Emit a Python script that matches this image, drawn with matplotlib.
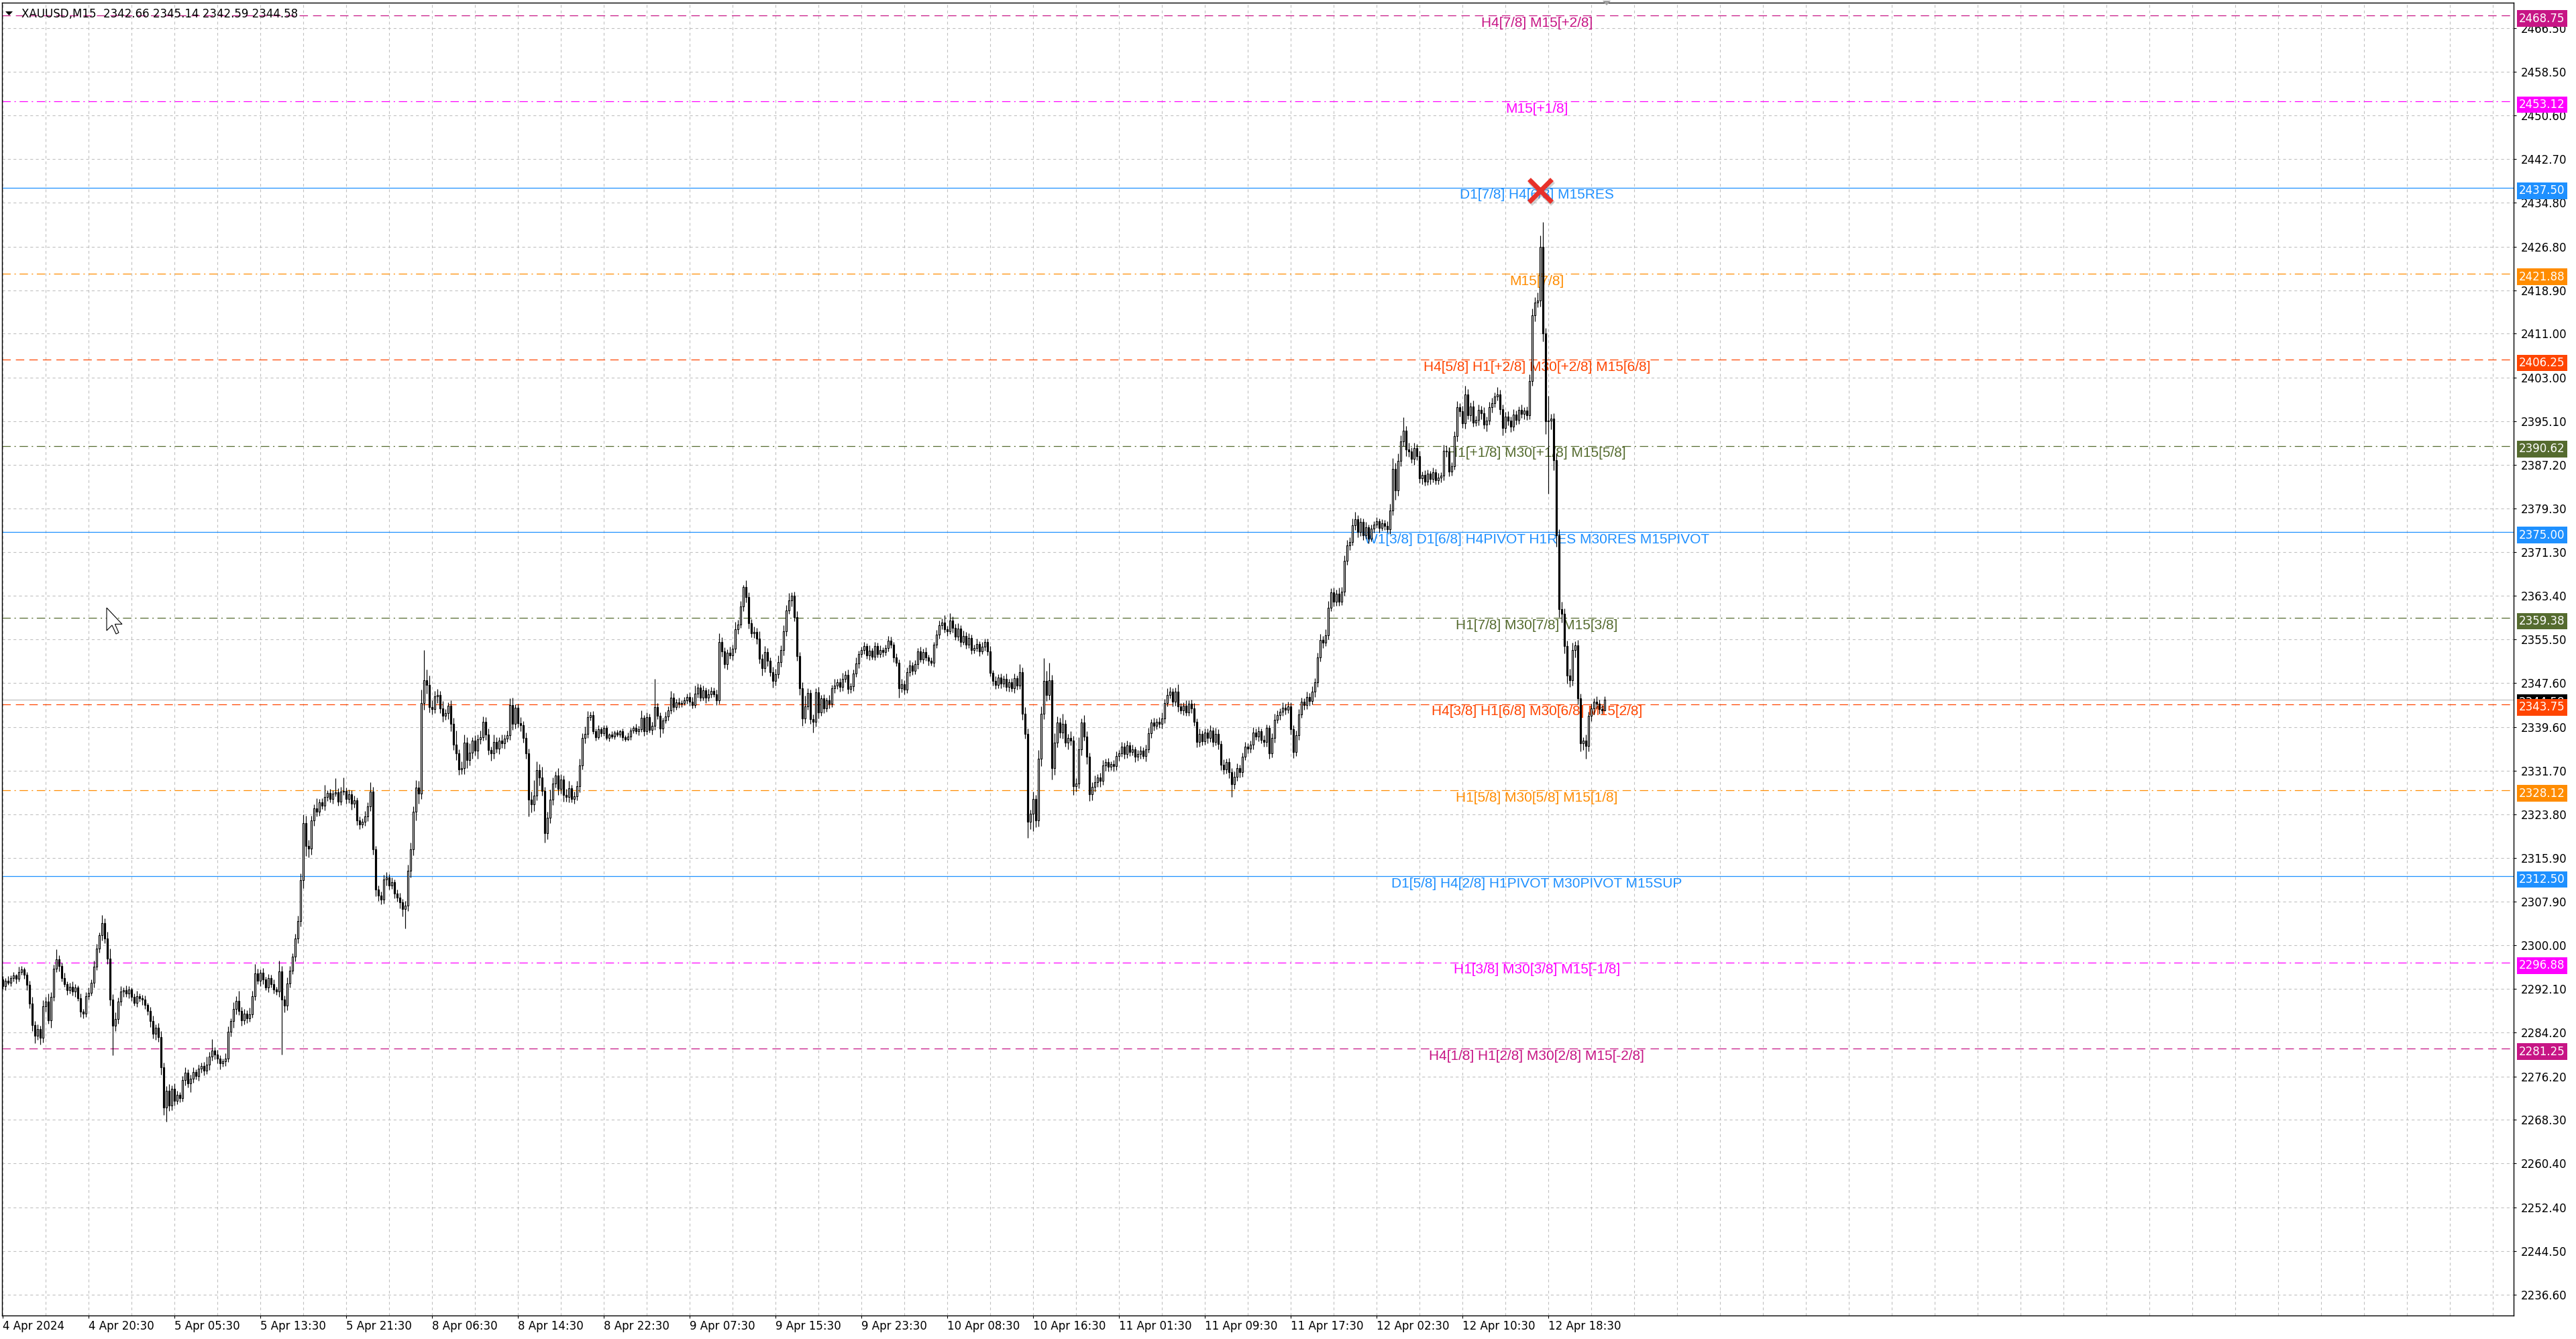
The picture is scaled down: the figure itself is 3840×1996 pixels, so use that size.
import numpy as np
import matplotlib.pyplot as plt
import matplotlib.transforms as mtransforms
from matplotlib.patches import Polygon

plt.rcParams['font.family'] = ['DejaVu Sans']
plt.rcParams['lines.scale_dashes'] = False

# ---------- XAUUSD M15 candles ----------
first_open = 2293.8
closes = [
    2292.6, 2293.6, 2293.2, 2294.0, 2294.5, 2293.9, 2295.2, 2295.6, 2294.6, 2292.8,
    2289.4, 2285.5, 2283.6, 2284.8, 2283.2, 2288.9, 2289.8, 2286.4, 2290.6, 2295.8,
    2297.4, 2296.2, 2294.1, 2293.0, 2291.8, 2292.5, 2291.6, 2292.3, 2290.4, 2288.0,
    2287.6, 2290.8, 2291.4, 2293.2, 2296.1, 2299.4, 2301.8, 2304.0, 2301.2, 2297.6,
    2290.2, 2285.4, 2286.6, 2289.8, 2291.6, 2291.9, 2291.2, 2292.0, 2290.6, 2289.6,
    2290.8, 2290.4, 2290.1, 2289.2, 2288.1, 2286.2, 2284.0, 2285.1, 2283.3, 2277.8,
    2270.6, 2273.6, 2270.9, 2274.0, 2271.8, 2272.9, 2272.3, 2275.5, 2276.9, 2274.9,
    2275.8, 2277.0, 2276.3, 2277.6, 2278.1, 2277.2, 2278.4, 2279.8, 2280.9, 2280.2,
    2279.4, 2278.6, 2279.0, 2279.5, 2284.3, 2286.2, 2288.4, 2289.9, 2288.1, 2286.4,
    2287.6, 2286.8, 2287.5, 2290.8, 2294.9, 2293.6, 2295.0, 2293.8, 2292.4, 2294.1,
    2293.0, 2292.0, 2291.6, 2295.3, 2290.2, 2289.0, 2293.1, 2295.4, 2298.0, 2301.2,
    2304.4, 2311.8, 2322.2, 2318.0, 2317.6, 2322.6, 2324.8, 2324.2, 2326.0, 2325.3,
    2326.9, 2327.6, 2326.6, 2327.5, 2327.8, 2326.1, 2327.9, 2328.0, 2326.6, 2327.4,
    2325.7, 2326.3, 2322.7, 2321.9, 2322.4, 2323.4, 2325.2, 2327.9, 2317.4, 2310.1,
    2309.0, 2308.3, 2311.9, 2312.3, 2310.9, 2311.5, 2309.4, 2308.6, 2307.8, 2306.6,
    2307.2, 2313.5, 2317.4, 2324.2, 2328.6, 2327.5, 2344.0, 2348.1, 2347.3, 2343.2,
    2342.9, 2345.2, 2345.4, 2343.0, 2341.6, 2342.1, 2343.5, 2340.2, 2336.4, 2334.8,
    2331.9, 2332.2, 2336.8, 2333.6, 2335.0, 2337.1, 2335.3, 2337.4, 2337.8, 2340.6,
    2338.3, 2335.4, 2334.8, 2336.9, 2335.7, 2337.2, 2336.6, 2337.5, 2338.1, 2343.6,
    2340.2, 2343.1, 2340.3, 2340.0, 2337.6, 2334.8, 2326.4, 2325.6, 2327.2, 2331.8,
    2330.4, 2328.0, 2320.4, 2323.1, 2326.4, 2329.4, 2330.8, 2328.4, 2330.1, 2327.3,
    2326.9, 2328.5, 2326.6, 2327.1, 2328.9, 2332.6, 2337.6, 2338.4, 2341.4, 2341.8,
    2338.9, 2337.8, 2339.2, 2338.5, 2339.4, 2337.6, 2338.2, 2337.9, 2338.6, 2338.3,
    2338.8, 2337.7, 2337.4, 2337.9, 2339.0, 2339.4, 2338.8, 2339.2, 2341.3, 2338.8,
    2341.4, 2339.1, 2339.8, 2343.2, 2341.7, 2339.4, 2340.8, 2341.5, 2342.6, 2345.0,
    2343.2, 2344.1, 2343.8, 2344.0, 2344.4, 2345.1, 2344.2, 2343.6, 2345.7, 2346.8,
    2345.0, 2346.3, 2344.9, 2345.6, 2346.2, 2345.6, 2344.4, 2355.0, 2353.4, 2351.0,
    2353.1, 2352.6, 2353.8, 2357.4, 2358.2, 2361.5, 2365.0, 2363.2, 2358.4, 2356.6,
    2356.9, 2355.7, 2352.0, 2350.3, 2353.2, 2351.6, 2349.6, 2348.0, 2349.2, 2351.4,
    2353.6, 2357.0, 2360.8, 2362.6, 2363.4, 2359.6, 2352.5, 2346.6, 2341.2, 2343.4,
    2345.8, 2341.0, 2340.6, 2345.9, 2342.3, 2344.8, 2343.0, 2344.5, 2343.9, 2346.6,
    2347.1, 2347.7, 2346.9, 2348.4, 2349.1, 2346.5, 2347.0, 2349.3, 2351.1, 2352.8,
    2353.6, 2354.3, 2352.6, 2353.5, 2352.4, 2354.3, 2352.8, 2353.6, 2353.2, 2354.0,
    2355.3, 2354.5, 2352.2, 2351.3, 2346.6, 2347.4, 2346.4, 2349.6, 2350.8, 2349.8,
    2351.0, 2353.4, 2351.9, 2353.2, 2352.2, 2351.6, 2351.3, 2354.5, 2356.4, 2358.1,
    2358.6, 2357.4, 2357.0, 2358.9, 2357.6, 2356.0, 2357.5, 2355.1, 2356.2, 2354.6,
    2355.8, 2353.6, 2353.9, 2354.7, 2353.4, 2354.2, 2355.0, 2353.4, 2349.4, 2348.0,
    2347.2, 2348.6, 2347.5, 2348.4, 2346.9, 2347.8, 2346.6, 2348.5, 2347.1, 2349.6,
    2342.0, 2338.4, 2322.4, 2323.9, 2326.5, 2322.6, 2333.9, 2342.0, 2348.0, 2345.4,
    2348.1, 2332.1, 2336.8, 2340.4, 2338.6, 2340.2, 2336.8, 2337.6, 2337.2, 2328.9,
    2329.4, 2335.6, 2340.4, 2337.9, 2334.2, 2327.4, 2328.8, 2329.6, 2330.4, 2329.8,
    2332.6, 2333.2, 2332.4, 2332.9, 2332.5, 2334.3, 2334.8, 2336.1, 2334.7, 2336.3,
    2335.1, 2335.6, 2334.2, 2334.7, 2335.3, 2334.4, 2335.6, 2338.5, 2340.4, 2339.8,
    2340.6, 2340.2, 2341.2, 2344.0, 2345.4, 2346.0, 2344.2, 2346.0, 2343.3, 2342.6,
    2343.5, 2342.3, 2343.8, 2343.0, 2340.5, 2336.9, 2338.4, 2337.0, 2338.6, 2337.6,
    2339.0, 2336.9, 2338.4, 2336.5, 2332.8, 2331.9, 2333.2, 2331.4, 2329.2, 2330.6,
    2332.2, 2331.4, 2334.2, 2336.0, 2335.7, 2336.4, 2338.6, 2337.9, 2338.8, 2337.3,
    2336.9, 2339.4, 2334.8, 2337.6, 2340.9, 2341.8, 2342.4, 2343.1, 2342.7, 2343.3,
    2339.2, 2335.1, 2338.1, 2341.9, 2344.2, 2343.6, 2345.1, 2344.3, 2346.0, 2347.7,
    2352.2, 2355.4, 2354.9, 2356.3, 2361.3, 2364.0, 2362.4, 2363.8, 2362.3, 2364.2,
    2369.8, 2372.6, 2373.2, 2376.2, 2377.3, 2375.0, 2376.8, 2374.4, 2375.9, 2373.8,
    2375.6, 2376.3, 2376.9, 2375.7, 2376.6, 2376.1, 2375.5, 2378.9, 2386.5, 2382.5,
    2387.9, 2391.4, 2393.4, 2390.0, 2389.6, 2388.3, 2390.2, 2388.8, 2384.8, 2385.4,
    2384.2, 2385.6, 2384.6, 2385.8, 2384.4, 2384.9, 2385.2, 2389.8, 2389.6, 2386.0,
    2387.0, 2392.4, 2397.6, 2396.9, 2394.7, 2400.0, 2396.2, 2397.8, 2394.9, 2395.3,
    2397.2, 2396.5, 2394.5, 2395.2, 2397.6, 2398.4, 2399.6, 2400.0, 2397.3, 2393.9,
    2396.0, 2395.2, 2394.1, 2396.3, 2395.4, 2397.2, 2396.4, 2397.0, 2396.2, 2402.4,
    2414.3, 2416.6, 2417.0, 2426.7, 2411.0, 2395.1, 2395.2, 2395.6, 2388.0, 2374.4,
    2361.0, 2360.2, 2354.3, 2349.0, 2348.1, 2353.6, 2354.4, 2344.8, 2336.6, 2337.1,
    2336.2, 2341.6, 2343.0, 2344.2, 2343.8, 2342.9, 2342.66, 2344.58,
]

# wick length above max(open, close) and below min(open, close)
upper_wick = [
    0.6, 0.4, 0.8, 0.5, 0.7, 0.3, 0.9, 0.6, 0.4, 0.5, 0.8, 1.2, 0.7, 0.9, 0.6, 1.1, 0.8, 1.4, 0.9, 0.7,
    1.9, 0.8, 0.6, 0.9, 0.5, 0.7, 1.0, 0.6, 0.4, 0.8, 0.5, 0.7, 0.9, 0.6, 1.1, 0.8, 0.5, 1.5, 0.9, 1.3,
    1.8, 0.9, 1.2, 0.7, 1.0, 0.5, 0.8, 0.6, 0.4, 0.7, 0.9, 0.5, 0.6, 0.8, 0.4, 0.7, 1.0, 0.6, 0.8, 1.1,
    0.9, 0.8, 1.2, 0.6, 0.9, 0.7, 0.5, 0.8, 1.0, 0.6, 0.7, 0.9, 0.5, 0.8, 0.6, 0.7, 1.4, 0.9, 2.1, 0.6,
    0.8, 0.7, 0.5, 0.9, 1.0, 0.6, 1.3, 0.9, 1.8, 0.7, 0.8, 0.6, 1.2, 0.9, 1.7, 0.8, 0.6, 0.9, 0.5, 0.7,
    0.6, 0.8, 0.5, 1.9, 0.9, 0.7, 1.1, 0.8, 0.6, 0.9, 1.0, 1.2, 1.6, 1.3, 1.1, 0.9, 0.8, 1.9, 0.6, 0.7,
    2.2, 0.5, 0.8, 0.6, 2.5, 0.7, 0.9, 2.4, 0.6, 0.8, 0.7, 0.9, 0.5, 0.7, 0.6, 1.0, 0.8, 1.7, 0.9, 0.6,
    0.8, 0.7, 0.9, 1.0, 0.6, 0.8, 0.5, 0.7, 0.9, 0.6, 0.8, 1.1, 1.3, 1.0, 1.4, 1.2, 2.4, 5.5, 2.0, 1.6,
    1.2, 0.9, 1.1, 0.7, 1.3, 0.8, 0.6, 0.9, 1.1, 2.6, 0.8, 1.2, 1.5, 0.9, 1.6, 0.7, 1.0, 0.8, 1.2, 0.9,
    0.8, 1.1, 0.7, 1.3, 0.9, 0.6, 1.0, 0.8, 0.9, 1.2, 1.4, 0.6, 0.8, 1.1, 0.7, 1.0, 0.9, 1.5, 2.8, 1.6,
    1.1, 2.0, 0.7, 1.2, 1.9, 1.0, 0.8, 1.4, 0.9, 0.7, 1.1, 1.3, 0.6, 0.8, 1.0, 1.2, 0.9, 1.3, 1.1, 0.6,
    0.7, 0.5, 0.8, 0.4, 0.6, 0.5, 0.3, 0.6, 0.4, 0.5, 0.3, 0.6, 0.4, 0.7, 0.5, 0.4, 0.8, 0.6, 1.3, 0.5,
    0.9, 0.6, 0.7, 5.1, 0.8, 0.6, 0.5, 0.9, 0.7, 1.2, 0.8, 0.6, 0.9, 0.5, 0.7, 0.6, 0.8, 0.9, 1.4, 0.7,
    0.6, 0.8, 0.5, 0.9, 0.7, 0.6, 0.8, 1.6, 0.9, 0.7, 0.6, 1.1, 0.8, 1.3, 0.9, 1.0, 0.4, 1.2, 0.9, 0.8,
    1.0, 0.7, 1.3, 0.9, 1.1, 0.8, 0.6, 0.9, 1.0, 1.2, 0.8, 1.1, 0.9, 1.3, 0.6, 0.8, 1.0, 0.7, 1.1, 1.9,
    0.8, 0.6, 0.9, 0.7, 1.0, 0.6, 0.8, 0.5, 0.9, 0.7, 1.3, 0.6, 0.8, 1.0, 0.7, 0.9, 0.6, 0.8, 1.2, 0.7,
    0.6, 0.8, 0.5, 0.9, 0.4, 0.7, 0.6, 0.8, 0.5, 0.6, 0.9, 0.7, 0.5, 0.8, 0.6, 0.9, 0.7, 0.8, 1.0, 0.6,
    0.7, 0.5, 0.8, 0.6, 0.9, 0.5, 0.7, 0.6, 0.8, 0.9, 0.7, 1.3, 0.6, 1.4, 0.8, 0.7, 1.0, 0.6, 0.9, 0.7,
    0.8, 0.6, 0.7, 0.9, 0.5, 0.8, 0.6, 0.7, 0.9, 0.5, 0.8, 0.6, 0.7, 0.5, 0.9, 0.6, 0.7, 0.8, 0.5, 1.4,
    0.8, 1.2, 0.9, 0.7, 1.4, 0.8, 1.5, 1.3, 4.1, 1.8, 3.2, 1.0, 1.7, 1.1, 0.9, 1.8, 0.7, 0.8, 1.2, 0.8,
    0.9, 2.1, 0.8, 1.4, 0.9, 0.7, 0.8, 1.2, 0.6, 0.9, 1.0, 0.7, 0.8, 0.5, 0.7, 0.9, 0.6, 0.8, 0.7, 0.9,
    0.6, 0.8, 0.5, 0.7, 0.9, 0.6, 0.8, 1.0, 0.7, 0.9, 0.6, 0.8, 1.1, 0.7, 1.2, 0.9, 0.6, 0.8, 1.4, 0.7,
    0.6, 0.9, 0.7, 0.8, 1.0, 0.7, 0.9, 0.6, 0.8, 0.7, 0.9, 0.6, 1.1, 0.8, 0.7, 0.9, 0.6, 0.8, 0.7, 0.9,
    0.8, 0.6, 0.7, 0.9, 0.6, 0.8, 1.0, 0.7, 0.9, 0.6, 0.8, 0.7, 0.6, 0.9, 1.1, 0.8, 0.6, 1.0, 0.7, 0.9,
    0.8, 0.7, 0.9, 1.0, 0.8, 0.6, 0.9, 0.7, 1.0, 0.8, 0.9, 1.1, 0.7, 1.0, 1.2, 0.8, 0.9, 0.7, 1.1, 0.8,
    0.9, 1.0, 0.8, 1.2, 1.4, 0.7, 0.8, 0.6, 0.9, 0.5, 0.7, 0.6, 0.8, 0.5, 0.7, 0.6, 0.8, 1.2, 1.9, 1.0,
    1.4, 1.1, 2.4, 0.9, 1.2, 0.8, 1.0, 0.7, 0.9, 0.6, 0.8, 0.7, 0.5, 0.9, 0.6, 0.8, 0.7, 1.0, 0.9, 0.8,
    0.7, 0.9, 1.1, 0.8, 1.0, 1.6, 0.9, 0.7, 1.1, 0.8, 0.9, 0.7, 1.2, 0.8, 1.0, 0.9, 0.7, 1.3, 0.8, 0.9,
    0.8, 0.9, 0.7, 1.0, 0.8, 0.6, 0.9, 0.7, 0.8, 1.2, 1.3, 1.0, 1.5, 2.1, 4.6, 1.0, 4.5, 0.8, 0.9, 1.2,
    1.1, 1.4, 0.9, 1.0, 1.2, 1.3, 0.8, 1.0, 0.9, 0.7, 1.1, 0.8, 0.9, 0.6, 1.0, 0.8, 0.7, 0.56,
]
lower_wick = [
    0.5, 0.7, 0.4, 0.6, 0.5, 0.8, 0.4, 0.6, 0.7, 0.9, 0.8, 1.1, 1.4, 0.7, 1.2, 0.8, 0.9, 0.6, 1.3, 0.7,
    0.6, 0.9, 0.7, 0.5, 0.8, 0.6, 0.7, 0.9, 0.5, 1.0, 0.9, 0.6, 0.7, 0.5, 0.8, 0.6, 0.7, 0.9, 0.8, 1.0,
    1.2, 5.4, 1.0, 0.8, 0.7, 0.9, 0.6, 0.8, 0.7, 0.5, 0.8, 0.6, 0.9, 0.7, 0.8, 1.0, 0.9, 1.1, 0.8, 1.3,
    1.4, 2.6, 1.0, 0.8, 0.9, 0.7, 0.8, 0.6, 0.9, 0.7, 1.6, 0.8, 0.6, 0.9, 0.7, 0.8, 0.6, 1.0, 0.7, 0.9,
    0.8, 1.1, 0.6, 0.9, 0.7, 0.8, 1.2, 0.9, 0.7, 1.0, 0.8, 0.9, 0.7, 0.6, 0.8, 0.7, 1.0, 0.8, 0.6, 0.9,
    0.7, 0.8, 0.6, 0.9, 10.0, 1.2, 0.8, 0.7, 0.6, 0.9, 0.8, 1.0, 1.4, 1.8, 1.6, 1.1, 0.9, 0.8, 0.7, 0.6,
    0.8, 0.7, 0.6, 0.9, 0.5, 0.8, 0.7, 0.6, 0.9, 0.8, 1.1, 0.7, 0.9, 0.8, 0.6, 0.7, 0.9, 0.8, 1.0, 1.2,
    0.9, 0.8, 0.7, 1.0, 0.8, 0.6, 0.9, 0.7, 1.1, 1.3, 3.6, 1.0, 1.2, 1.1, 1.5, 1.8, 0.9, 1.2, 1.6, 0.9,
    1.0, 0.8, 1.2, 0.9, 1.1, 0.7, 1.0, 1.3, 0.9, 1.2, 1.0, 0.8, 1.1, 1.5, 0.9, 1.2, 0.8, 1.4, 0.9, 0.7,
    1.0, 0.8, 1.3, 0.9, 0.7, 1.0, 0.8, 0.9, 0.6, 0.8, 1.1, 0.9, 0.7, 1.2, 0.8, 0.9, 3.0, 1.5, 1.2, 0.9,
    1.4, 0.8, 1.8, 1.2, 0.9, 1.0, 0.8, 1.1, 0.9, 1.2, 0.8, 1.0, 0.7, 0.9, 0.8, 1.1, 0.7, 0.9, 0.8, 0.6,
    0.5, 0.7, 0.4, 0.6, 0.5, 0.3, 0.6, 0.4, 0.5, 0.4, 0.6, 0.5, 0.4, 0.3, 0.6, 0.5, 0.4, 0.7, 0.5, 0.8,
    0.6, 0.5, 0.8, 0.7, 0.6, 1.6, 0.9, 0.5, 0.7, 0.6, 0.8, 0.5, 0.7, 0.6, 0.4, 0.5, 0.7, 0.6, 0.5, 0.8,
    0.7, 0.5, 0.9, 0.6, 0.7, 0.5, 0.8, 0.6, 1.0, 0.7, 0.9, 0.6, 0.8, 0.7, 0.9, 0.6, 0.8, 1.0, 0.9, 0.7,
    0.8, 1.0, 0.9, 1.3, 0.7, 0.9, 0.8, 1.2, 0.9, 0.7, 0.8, 1.0, 0.9, 0.7, 1.1, 0.8, 0.9, 1.2, 1.4, 0.9,
    0.7, 0.8, 2.0, 0.9, 1.1, 0.7, 0.8, 0.6, 0.9, 0.7, 0.8, 0.6, 0.9, 0.7, 0.6, 0.8, 0.7, 0.9, 0.6, 0.8,
    0.5, 0.7, 0.6, 0.8, 0.5, 0.7, 0.6, 0.5, 0.8, 0.6, 0.7, 0.5, 0.8, 0.6, 1.6, 0.7, 0.9, 0.6, 0.8, 0.7,
    0.6, 0.8, 0.5, 0.7, 0.6, 0.8, 0.5, 0.7, 0.6, 0.8, 0.7, 0.6, 0.9, 0.5, 0.8, 0.6, 0.7, 0.9, 0.6, 0.8,
    0.7, 0.8, 0.6, 0.5, 0.9, 0.6, 0.7, 0.8, 0.6, 0.9, 0.7, 0.5, 0.8, 0.6, 0.7, 0.9, 0.6, 0.8, 0.7, 0.6,
    1.1, 0.9, 2.9, 1.3, 3.2, 1.2, 1.0, 1.4, 0.9, 1.1, 0.8, 2.0, 1.2, 0.9, 1.0, 1.1, 0.8, 1.2, 0.9, 1.6,
    1.0, 0.9, 1.1, 0.8, 1.3, 1.2, 1.1, 0.9, 0.8, 1.0, 0.7, 0.9, 0.8, 0.6, 0.9, 0.7, 0.8, 0.6, 0.9, 0.7,
    0.8, 0.6, 0.9, 0.7, 0.8, 0.6, 1.0, 0.7, 0.9, 0.8, 0.6, 0.7, 0.8, 0.9, 0.7, 0.6, 0.8, 0.7, 0.9, 0.6,
    0.8, 0.7, 0.6, 0.9, 0.7, 1.0, 0.8, 0.7, 0.6, 0.9, 0.7, 0.8, 0.6, 0.9, 1.0, 0.8, 0.7, 1.1, 2.3, 0.8,
    0.7, 0.9, 0.8, 0.6, 0.9, 0.7, 0.8, 0.6, 0.9, 0.7, 0.8, 0.9, 1.0, 0.7, 0.8, 0.6, 0.9, 0.7, 0.8, 0.6,
    0.9, 1.1, 0.7, 0.8, 0.6, 0.9, 0.7, 0.8, 0.6, 0.9, 0.8, 0.7, 0.9, 0.6, 0.8, 0.7, 0.9, 0.8, 0.7, 0.6,
    0.8, 0.7, 0.9, 0.6, 0.8, 1.0, 0.7, 0.9, 0.6, 0.8, 0.5, 0.7, 0.6, 0.8, 0.5, 0.7, 0.6, 0.8, 0.9, 1.6,
    0.9, 1.0, 0.8, 1.2, 0.9, 0.7, 1.1, 0.8, 0.9, 1.2, 0.8, 0.7, 0.9, 0.6, 0.8, 0.7, 0.9, 0.8, 1.0, 0.9,
    0.8, 0.7, 0.9, 1.0, 0.8, 0.9, 0.7, 1.1, 0.8, 0.7, 0.9, 1.0, 0.8, 1.2, 0.7, 0.9, 0.8, 0.7, 1.0, 1.4,
    0.9, 0.8, 1.0, 0.7, 0.9, 0.8, 0.7, 0.9, 0.8, 0.7, 0.9, 1.0, 0.8, 1.1, 1.4, 2.3, 13.1, 1.6, 1.8, 2.1,
    1.4, 1.6, 1.3, 1.5, 1.2, 1.0, 1.3, 1.1, 1.4, 1.2, 2.3, 1.0, 0.9, 1.1, 0.8, 0.9, 0.7, 0.07,
]

x_labels = ["4 Apr 2024", "4 Apr 20:30", "5 Apr 05:30", "5 Apr 13:30", "5 Apr 21:30",
            "8 Apr 06:30", "8 Apr 14:30", "8 Apr 22:30", "9 Apr 07:30", "9 Apr 15:30",
            "9 Apr 23:30", "10 Apr 08:30", "10 Apr 16:30", "11 Apr 01:30", "11 Apr 09:30",
            "11 Apr 17:30", "12 Apr 02:30", "12 Apr 10:30", "12 Apr 18:30"]
y_ticks = [2466.50, 2458.50, 2450.60, 2442.70, 2434.80, 2426.80, 2418.90, 2411.00,
           2403.00, 2395.10, 2387.20, 2379.30, 2371.30, 2363.40, 2355.50, 2347.60,
           2339.60, 2331.70, 2323.80, 2315.90, 2307.90, 2300.00, 2292.10, 2284.20,
           2276.20, 2268.30, 2260.40, 2252.40, 2244.50, 2236.60]

# Murrey-math style levels
levels = [2468.75, 2453.12, 2437.50, 2421.88, 2406.25, 2390.62, 2375.00,
          2359.38, 2343.75, 2328.12, 2312.50, 2296.88, 2281.25]
level_texts = ["H4[7/8] M15[+2/8]", "M15[+1/8]", "D1[7/8] H4[6/8] M15RES", "M15[7/8]",
               "H4[5/8] H1[+2/8] M30[+2/8] M15[6/8]", "H1[+1/8] M30[+1/8] M15[5/8]",
               "W1[3/8] D1[6/8] H4PIVOT H1RES M30RES M15PIVOT", "H1[7/8] M30[7/8] M15[3/8]",
               "H4[3/8] H1[6/8] M30[6/8] M15[2/8]", "H1[5/8] M30[5/8] M15[1/8]",
               "D1[5/8] H4[2/8] H1PIVOT M30PIVOT M15SUP", "H1[3/8] M30[3/8] M15[-1/8]",
               "H4[1/8] H1[2/8] M30[2/8] M15[-2/8]"]
level_colors = ["#C71585", "#FF00FF", "#1E90FF", "#FF8C00", "#FF4500", "#556B2F", "#1E90FF",
                "#556B2F", "#FF4500", "#FF8C00", "#1E90FF", "#FF00FF", "#C71585"]
level_kinds = ["dash", "dashdot", "solid", "dashdot", "dash", "dashdot", "solid",
               "dashdot", "dash", "dashdot", "solid", "dashdot", "dash"]
bid = 2344.58
header = "XAUUSD,M15  2342.66 2345.14 2342.59 2344.58"

assert len(closes) == len(upper_wick) == len(lower_wick), (len(closes), len(upper_wick), len(lower_wick))

c = np.array(closes)
o = np.concatenate([[first_open], c[:-1]])
h = np.maximum(o, c) + np.array(upper_wick)
l = np.minimum(o, c) - np.array(lower_wick)
idx = np.arange(len(c))

W, H = 3840, 1996
fig = plt.figure(figsize=(W / 100, H / 100), dpi=100)
ax = fig.add_axes([3 / W, 1 - 1961 / H, 3744 / W, 1957 / H])
ax.set_xlim(-0.25, 935.75)
ax.set_ylim(2232.81, 2471.07)

# grid
ax.set_xticks(np.arange(0, 577, 32))
ax.set_xticks(np.arange(16, 936, 16), minor=True)
ax.set_xticklabels(x_labels)
for lbl in ax.get_xticklabels():
    lbl.set_horizontalalignment('left')
ax.set_yticks(y_ticks)
ax.set_yticklabels([f"{v:.2f}" for v in y_ticks])
ax.yaxis.tick_right()
ax.grid(True, which='both', axis='x', color='#C0C0C0', lw=0.8, ls=(0, (3, 3)))
ax.grid(True, which='major', axis='y', color='#C0C0C0', lw=0.8, ls=(0, (3, 3)))
ax.set_axisbelow(True)
ax.tick_params(axis='x', which='major', direction='out', length=3, width=0.8, pad=2, labelsize=12)
ax.tick_params(axis='x', which='minor', length=0)
ax.tick_params(axis='y', direction='out', length=3, width=0.8, pad=5, labelsize=12)
for sp in ax.spines.values():
    sp.set_color('black')
    sp.set_linewidth(1.0)

# level lines + texts
styles = {"dash": (0, (9, 5.5)), "dashdot": (0, (9, 4, 1.5, 4)), "solid": "-"}
for price, txt, col, kind in zip(levels, level_texts, level_colors, level_kinds):
    ax.axhline(price, color=col, lw=0.9, ls=styles[kind], zorder=2)
    ax.text(571.7, price - 1.36, txt, color=col, ha='center', va='center',
            fontsize=15, family='Liberation Sans', zorder=3)
ax.axhline(bid, color='#C0C0C0', lw=0.9, zorder=2)

# candles
ax.vlines(idx, l, h, color='black', lw=0.85, zorder=4)
up = c >= o
ax.bar(idx[up], c[up] - o[up], bottom=o[up], width=0.5, color='white',
       edgecolor='black', lw=0.85, zorder=5)
ax.bar(idx[~up], o[~up] - c[~up], bottom=c[~up], width=0.5, color='black',
       edgecolor='black', lw=0.85, zorder=5)

# red cross object near the top
ax.plot(573.6, 2436.6, marker='x', ms=24, mew=6, color='grey', alpha=0.35, zorder=6)
ax.plot(573, 2437.0, marker='x', ms=24, mew=5, color='#E8312A', zorder=7)

# price boxes on the right scale (box top sits on the level)
trans = mtransforms.blended_transform_factory(fig.transFigure, ax.transData)
box_prices = [2468.75, 2453.12, 2437.50, 2421.88, 2406.25, 2390.62, 2375.00,
              2359.38, bid, 2343.75, 2328.12, 2312.50, 2296.88, 2281.25]
box_colors = ["#C71585", "#FF00FF", "#1E90FF", "#FF8C00", "#FF4500", "#556B2F", "#1E90FF",
              "#556B2F", "black", "#FF4500", "#FF8C00", "#1E90FF", "#FF00FF", "#C71585"]
for k, (price, col) in enumerate(zip(box_prices, box_colors)):
    ax.text(3755 / W, price - 0.55, f"{price:.2f}", transform=trans, color='white', fontsize=12,
            ha='left', va='center', clip_on=False, zorder=10 + k,
            bbox=dict(boxstyle='square,pad=0.2', fc=col, ec='none'))

# header
fig.text(32 / W, 1 - 21 / H, header, fontsize=12, va='center', ha='left', color='black')
fig.patches.append(Polygon([(8, H - 17), (19, H - 17), (13.5, H - 23)], closed=True,
                           transform=None, fc='black', ec='none', figure=fig))
# chart shift marker at top
fig.patches.append(Polygon([(2389, H - 1), (2401, H - 1), (2395, H - 8)], closed=True,
                           transform=None, fc='#A0A0A0', ec='none', figure=fig))
# mouse cursor
cur = np.array([(0, 0), (0, 17), (4, 13), (7, 19.5), (9, 18.5), (6.2, 12.2), (11.5, 12.2)]) * 2.0
fig.patches.append(Polygon([(159 + px, H - (906 + py)) for px, py in cur], closed=True,
                           transform=None, fc='white', ec='black', lw=0.8, figure=fig))

fig.savefig("out.png", dpi=100)
